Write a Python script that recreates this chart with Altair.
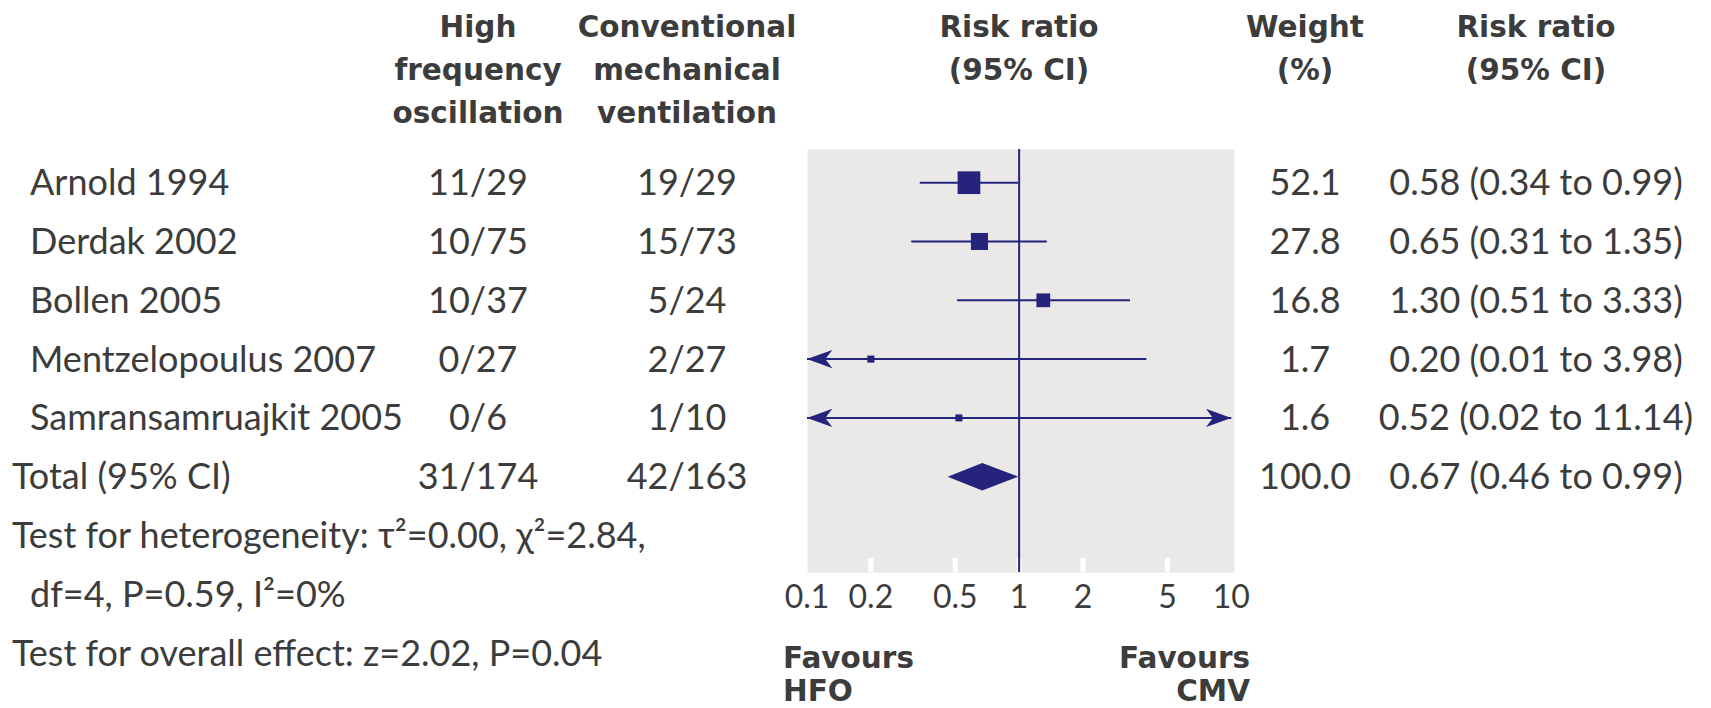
import altair as alt
import pandas as pd

# ---- study data -------------------------------------------------------------
studies = ["Arnold 1994", "Derdak 2002", "Bollen 2005",
           "Mentzelopoulus 2007", "Samransamruajkit 2005"]
hfo_events = ["11/29", "10/75", "10/37", "0/27", "0/6"]
cmv_events = ["19/29", "15/73", "5/24", "2/27", "1/10"]
weights = [52.1, 27.8, 16.8, 1.7, 1.6]
risk_ratio = [0.58, 0.65, 1.30, 0.20, 0.52]
ci_low = [0.34, 0.31, 0.51, 0.01, 0.02]
ci_high = [0.99, 1.35, 3.33, 3.98, 11.14]

total_label = "Total (95% CI)"
total_hfo = "31/174"
total_cmv = "42/163"
total_weight = 100.0
total_rr = 0.67
total_low = 0.46
total_high = 0.99

footer_lines = [
    "Test for heterogeneity: τ²=0.00, χ²=2.84,",
    "df=4, P=0.59, I²=0%",
    "Test for overall effect: z=2.02, P=0.04",
]
tick_values = [0.1, 0.2, 0.5, 1, 2, 5, 10]

# ---- styling ----------------------------------------------------------------
NAVY = "#25237b"
PANEL = "#eae9e7"
INK = "#3c3c3c"
BODY_FONT = "Lato, DejaVu Sans, sans-serif"
HEAD_FONT = "DejaVu Sans"
BODY_SIZE = 36
HEAD_SIZE = 29.5

PLOT_W, PLOT_H = 427, 423
AXIS_MIN, AXIS_MAX = tick_values[0], tick_values[-1]

xs = alt.Scale(type="log", domain=[AXIS_MIN, 10.3], nice=False)
ys = alt.Scale(domain=[-0.573, 6.621], reverse=True, nice=False, zero=False)

# ---- tables -----------------------------------------------------------------
n = len(studies)
study_df = pd.DataFrame({
    "study": studies, "hfo": hfo_events, "cmv": cmv_events,
    "weight": weights, "rr": risk_ratio, "lo": ci_low, "hi": ci_high,
})
study_df["row"] = range(n)
study_df["lo_draw"] = study_df["lo"].clip(lower=AXIS_MIN)
study_df["hi_draw"] = study_df["hi"].clip(upper=AXIS_MAX)

table_df = pd.DataFrame({
    "hfo": hfo_events + [total_hfo],
    "cmv": cmv_events + [total_cmv],
    "weight": weights + [total_weight],
    "rr": risk_ratio + [total_rr],
    "lo": ci_low + [total_low],
    "hi": ci_high + [total_high],
})
table_df["row"] = range(n + 1)
table_df["weight_txt"] = table_df["weight"].map(lambda v: f"{v:.1f}")
table_df["rr_txt"] = [f"{r:.2f} ({l:.2f} to {h:.2f})"
                      for r, l, h in zip(table_df["rr"], table_df["lo"], table_df["hi"])]

total_row = n
flush_df = pd.DataFrame({
    "text": [total_label, footer_lines[0], footer_lines[2]],
    "row": [total_row, total_row + 1, total_row + 3],
})
indent_df = pd.DataFrame({
    "text": studies + [footer_lines[1]],
    "row": list(range(n)) + [total_row + 2],
})

half = 0.233  # half height of the pooled-estimate diamond, in rows
diamond_df = pd.DataFrame({
    "x": [total_low, total_rr, total_high],
    "y_top": [total_row, total_row - half, total_row],
    "y_bot": [total_row, total_row + half, total_row],
})

tick_df = pd.DataFrame({"v": tick_values})
inner_ticks = tick_df[(tick_df["v"] > AXIS_MIN) & (tick_df["v"] < AXIS_MAX)]
null_df = pd.DataFrame({"v": [1]})

# barbed arrow heads with the tip at the symbol origin
LEFT_ARROW = "M0,0 L2,-0.72 L1.45,0 L2,0.72 Z"
RIGHT_ARROW = "M0,0 L-2,-0.72 L-1.45,0 L-2,0.72 Z"

X = lambda f: alt.X(f, scale=xs, axis=None)
Y = lambda f: alt.Y(f, scale=ys, axis=None)

# ---- forest panel -----------------------------------------------------------
white_ticks = alt.Chart(inner_ticks).mark_rule(color="white", strokeWidth=5).encode(
    x=X("v:Q"), y=alt.value(PLOT_H - 14), y2=alt.value(PLOT_H))

null_line = alt.Chart(null_df).mark_rule(color=NAVY, strokeWidth=2).encode(x=X("v:Q"))

ci_lines = alt.Chart(study_df).mark_rule(color=NAVY, strokeWidth=2).encode(
    x=X("lo_draw:Q"), x2="hi_draw:Q", y=Y("row:Q"))

squares = alt.Chart(study_df).mark_square(color=NAVY, opacity=1, filled=True).encode(
    x=X("rr:Q"), y=Y("row:Q"),
    size=alt.Size("weight:Q", scale=alt.Scale(domain=[1.6, 52.1], range=[49, 515]),
                  legend=None))

left_arrows = alt.Chart(study_df).transform_filter(
    alt.datum.lo < AXIS_MIN
).mark_point(shape=LEFT_ARROW, filled=True, size=640, opacity=1, color=NAVY,
             strokeWidth=0).encode(x=X("lo_draw:Q"), y=Y("row:Q"))

right_arrows = alt.Chart(study_df).transform_filter(
    alt.datum.hi > AXIS_MAX
).mark_point(shape=RIGHT_ARROW, filled=True, size=640, opacity=1, color=NAVY,
             strokeWidth=0).encode(x=X("hi_draw:Q"), y=Y("row:Q"))

diamond = alt.Chart(diamond_df).mark_area(color=NAVY, orient="vertical", opacity=1).encode(
    x=X("x:Q"), y=Y("y_top:Q"), y2="y_bot:Q")

tick_labels = alt.Chart(tick_df).mark_text(
    font=BODY_FONT, fontSize=32, color=INK, baseline="alphabetic", align="center"
).encode(x=X("v:Q"), y=alt.value(PLOT_H + 36), text=alt.Text("v:Q", format="~g"))


# ---- table text -------------------------------------------------------------
def body(df, field, xpos, align):
    return alt.Chart(df).mark_text(
        font=BODY_FONT, fontSize=BODY_SIZE, color=INK, baseline="alphabetic",
        align=align, dy=12.5
    ).encode(x=alt.value(xpos), y=Y("row:Q"), text=f"{field}:N")


text_layers = [
    body(indent_df, "text", -777, "left"),
    body(flush_df, "text", -795, "left"),
    body(table_df, "hfo", -329, "center"),
    body(table_df, "cmv", -120, "center"),
    body(table_df, "weight_txt", 498, "center"),
    body(table_df, "rr_txt", 729, "center"),
]


def bold(text, xpos, ypos, align, line_height):
    return alt.Chart(pd.DataFrame({"t": [text]})).mark_text(
        font=HEAD_FONT, fontWeight="bold", fontSize=HEAD_SIZE, color=INK,
        baseline="alphabetic", align=align, lineBreak="\n", lineHeight=line_height
    ).encode(x=alt.value(xpos), y=alt.value(ypos), text="t:N")


headers = [
    bold("High\nfrequency\noscillation", -329, -112, "center", 43),
    bold("Conventional\nmechanical\nventilation", -120, -112, "center", 43),
    bold("Risk ratio\n(95% CI)", 212, -112, "center", 43),
    bold("Weight\n(%)", 498, -112, "center", 43),
    bold("Risk ratio\n(95% CI)", 729, -112, "center", 43),
    bold("Favours\nHFO", -24, 519, "left", 33),
    bold("Favours\nCMV", 443, 519, "right", 33),
]

chart = alt.layer(
    white_ticks, null_line, ci_lines, squares, left_arrows, right_arrows, diamond,
    tick_labels, *text_layers, *headers
).properties(
    width=PLOT_W, height=PLOT_H,
    autosize=alt.AutoSizeParams(type="none"),
    padding={"left": 807, "top": 149, "right": 1711 - 807 - PLOT_W,
             "bottom": 708 - 149 - PLOT_H},
    background="white",
).configure_view(fill=PANEL, stroke="transparent")

chart.save("out.html", embed_options={"renderer": "svg", "actions": False})
